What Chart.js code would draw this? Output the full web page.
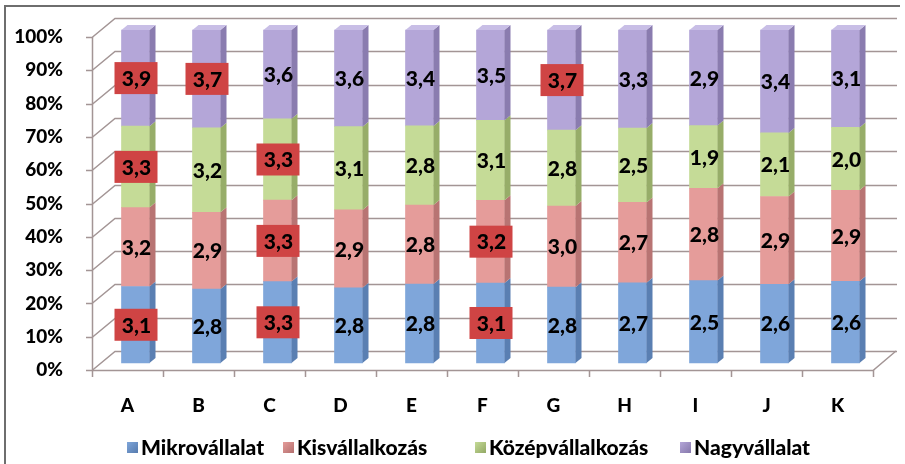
<!DOCTYPE html>
<html>
<head>
<meta charset="utf-8">
<script src="https://cdn.jsdelivr.net/npm/chart.js@4.4.0/dist/chart.umd.min.js"></script>
<style>
  html, body { margin: 0; padding: 0; background: #fff; }
  canvas { display: block; }
</style>
</head>
<body>
<canvas id="chart" width="905" height="464"></canvas>
<script>
const categories = ['A', 'B', 'C', 'D', 'E', 'F', 'G', 'H', 'I', 'J', 'K'];
const mikro = [3.1, 2.8, 3.3, 2.8, 2.8, 3.1, 2.8, 2.7, 2.5, 2.6, 2.6];
const kis   = [3.2, 2.9, 3.3, 2.9, 2.8, 3.2, 3.0, 2.7, 2.8, 2.9, 2.9];
const kozep = [3.3, 3.2, 3.3, 3.1, 2.8, 3.1, 2.8, 2.5, 1.9, 2.1, 2.0];
const nagy  = [3.9, 3.7, 3.6, 3.6, 3.4, 3.5, 3.7, 3.3, 2.9, 3.4, 3.1];
const seriesNames = ['Mikrovállalat', 'Kisvállalkozás', 'Középvállalkozás', 'Nagyvállalat'];
const yTickLabels = ['0%', '10%', '20%', '30%', '40%', '50%', '60%', '70%', '80%', '90%', '100%'];
// values shown in red boxes, "category:series"
const highlighted = ['A:0', 'A:2', 'A:3', 'B:3', 'C:0', 'C:1', 'C:2', 'F:0', 'F:1', 'G:3'];

const FONT = 'Lato, "Open Sans", sans-serif';
const GRID = '#a39595';
// 3d look: bars sit a bit back from the front axis, walls go further back
const BAR_DX = 8, BAR_DY = -7;
const SIDE_DX = 6, SIDE_DY = 5;
const WALL_DX = 23, WALL_DY = -19;

const allSeries = [mikro, kis, kozep, nagy];
const totals = categories.map((_, i) => allSeries.reduce((s, arr) => s + arr[i], 0));
const toPct = (arr) => arr.map((v, i) => v / totals[i] * 100);

const colors = [
  { front: '#7fa6da', side: '#5a7fb2' },
  { front: '#e59c9a', side: '#b87473' },
  { front: '#c5db97', side: '#97ad69' },
  { front: '#b4a6d8', side: '#8a7caf', top: '#c8bee6' }
];

const fmt = (v) => v.toFixed(1).replace('.', ',');

const depthPlugin = {
  id: 'depth',
  beforeDatasetsDraw(chart) {
    const { ctx, chartArea: a, scales: { x, y } } = chart;
    ctx.save();
    ctx.strokeStyle = GRID;
    ctx.lineWidth = 1.5;
    // back wall gridlines + left wall diagonals + front axis ticks
    yTickLabels.forEach((_, i) => {
      const py = Math.round(y.getPixelForValue(i * 10)) + 0.5;
      ctx.beginPath();
      ctx.moveTo(a.left, py);
      ctx.lineTo(a.left + WALL_DX, py + WALL_DY);
      ctx.lineTo(a.right + WALL_DX + 1, py + WALL_DY);
      ctx.moveTo(a.left - 6, py);
      ctx.lineTo(a.left, py);
      ctx.stroke();
    });
    // front axis line
    ctx.beginPath();
    ctx.moveTo(a.left + 0.5, a.top);
    ctx.lineTo(a.left + 0.5, a.bottom);
    // floor front edge and right edge
    ctx.moveTo(a.left, a.bottom + 0.5);
    ctx.lineTo(a.right, a.bottom + 0.5);
    ctx.lineTo(a.right + WALL_DX, a.bottom + WALL_DY);
    ctx.stroke();
    // category ticks on the floor edge
    const slot = (a.right - a.left) / categories.length;
    ctx.beginPath();
    for (let i = 0; i <= categories.length; i++) {
      const px = Math.round(x.getPixelForValue(i) - slot / 2) + 0.5;
      ctx.moveTo(px, a.bottom);
      ctx.lineTo(px, a.bottom + 7);
    }
    ctx.stroke();
    ctx.restore();

    // shift the bars back into the box
    ctx.save();
    ctx.translate(BAR_DX, BAR_DY);
  },
  afterDatasetsDraw(chart) {
    const ctx = chart.ctx;
    const last = chart.data.datasets.length - 1;
    chart.data.datasets.forEach((ds, di) => {
      chart.getDatasetMeta(di).data.forEach((bar) => {
        const { x, y, base, width } = bar.getProps(['x', 'y', 'base', 'width'], true);
        const l = x - width / 2, r = x + width / 2;
        ctx.fillStyle = colors[di].side;
        ctx.beginPath();
        ctx.moveTo(r, y);
        ctx.lineTo(r + SIDE_DX, y - SIDE_DY);
        ctx.lineTo(r + SIDE_DX, base - SIDE_DY);
        ctx.lineTo(r, base);
        ctx.closePath();
        ctx.fill();
        if (di === last) {
          ctx.fillStyle = colors[di].top;
          ctx.beginPath();
          ctx.moveTo(l, y);
          ctx.lineTo(l + SIDE_DX, y - SIDE_DY);
          ctx.lineTo(r + SIDE_DX, y - SIDE_DY);
          ctx.lineTo(r, y);
          ctx.closePath();
          ctx.fill();
        }
      });
    });
    ctx.restore();
  },
  afterDraw(chart) {
    const ctx = chart.ctx;
    ctx.save();
    // value labels
    ctx.font = '900 21px ' + FONT;
    ctx.textAlign = 'center';
    ctx.textBaseline = 'middle';
    allSeries.forEach((arr, di) => {
      chart.getDatasetMeta(di).data.forEach((bar, i) => {
        const { x, y, base } = bar.getProps(['x', 'y', 'base'], true);
        const cx = x + BAR_DX + 1, cy = (y + base) / 2 + BAR_DY;
        if (highlighted.includes(categories[i] + ':' + di)) {
          ctx.fillStyle = '#cf4444';
          ctx.fillRect(cx - 22, cy - 16, 43, 32);
        }
        ctx.fillStyle = '#000';
        ctx.fillText(fmt(arr[i]), cx, cy + 1);
      });
    });
    // legend
    const legendX = [127, 283, 475, 680];
    const ly = 447;
    ctx.font = '900 21px ' + FONT;
    ctx.textAlign = 'left';
    seriesNames.forEach((name, i) => {
      const g = ctx.createLinearGradient(legendX[i], ly - 5, legendX[i] + 10, ly + 5);
      g.addColorStop(0, colors[i].front);
      g.addColorStop(1, colors[i].side);
      ctx.fillStyle = g;
      ctx.fillRect(legendX[i], ly - 5, 11, 11);
      ctx.fillStyle = '#000';
      ctx.fillText(name, legendX[i] + 14, ly + 1);
    });
    // frame
    ctx.strokeStyle = '#6e6e6e';
    ctx.lineWidth = 2;
    ctx.beginPath();
    ctx.moveTo(5, 464);
    ctx.lineTo(5, 6);
    ctx.lineTo(900, 6);
    ctx.stroke();
    ctx.restore();
  }
};

new Chart(document.getElementById('chart'), {
  type: 'bar',
  data: {
    labels: categories,
    datasets: allSeries.map((arr, i) => ({
      label: seriesNames[i],
      data: toPct(arr),
      backgroundColor: colors[i].front,
      borderWidth: 0,
      barThickness: 28,
      clip: false
    }))
  },
  options: {
    responsive: false,
    animation: false,
    devicePixelRatio: 1,
    layout: { padding: { top: 37, right: 32, left: 0, bottom: 0 } },
    plugins: {
      legend: { display: false },
      tooltip: { enabled: false }
    },
    scales: {
      x: {
        stacked: true,
        grid: { display: false },
        border: { display: false },
        ticks: { color: '#000', font: { family: FONT, size: 19, weight: '900' }, padding: 16 },
        afterFit: (s) => { s.height = 94; }
      },
      y: {
        stacked: true,
        min: 0,
        max: 100,
        grid: { display: false },
        border: { display: false },
        ticks: {
          stepSize: 10,
          color: '#000',
          padding: 21,
          font: { family: FONT, size: 19, weight: '900' },
          callback: (v, i) => yTickLabels[i]
        },
        afterFit: (s) => { s.width = 92; }
      }
    }
  },
  plugins: [depthPlugin]
});
</script>
</body>
</html>
